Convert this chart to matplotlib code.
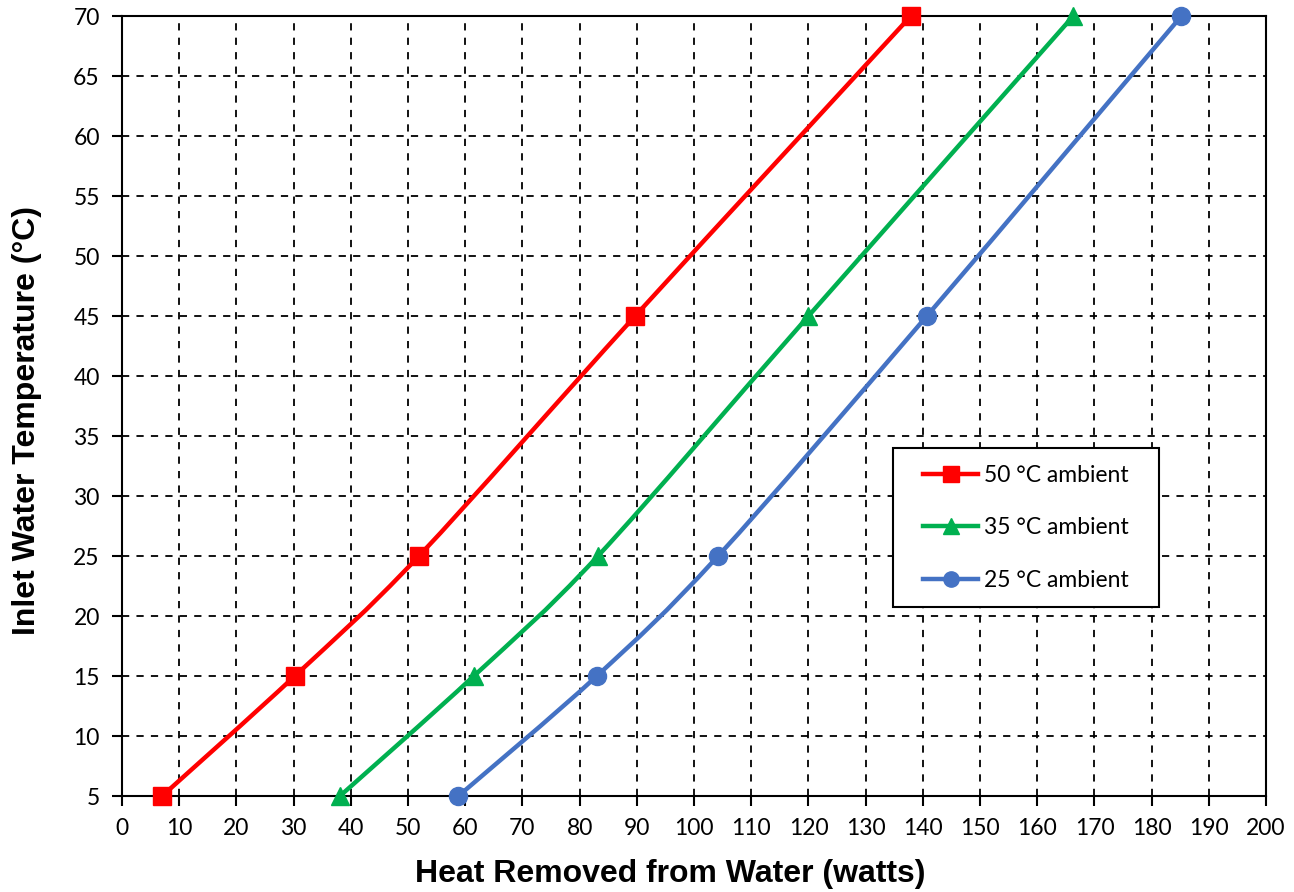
import numpy as np
import matplotlib
matplotlib.use("Agg")
import matplotlib.pyplot as plt
from matplotlib.path import Path
from matplotlib.patches import PathPatch, Rectangle
from matplotlib.lines import Line2D

# inlet water temperature (deg C)
temps = [5, 15, 25, 45, 70]

# heat removed (watts) for each ambient temperature
heat_50 = [7.0, 30.2, 51.9, 89.7, 137.9]
heat_35 = [38.1, 61.5, 83.2, 120.0, 166.3]
heat_25 = [58.8, 83.0, 104.2, 140.7, 185.2]

labels = ["50 °C ambient", "35 °C ambient", "25 °C ambient"]
colors = ["#FF0000", "#00B050", "#4472C4"]
markers = ["s", "^", "o"]
msizes = [13, 13, 13]

x_ticks = list(range(0, 201, 10))
y_ticks = list(range(5, 71, 5))


def smooth_path(x, y):
    # catmull-rom style bezier, like a spreadsheet "smoothed line"
    pts = np.column_stack([x, y]).astype(float)
    verts = [pts[0]]
    codes = [Path.MOVETO]
    n = len(pts)
    for i in range(n - 1):
        p0 = pts[i - 1] if i > 0 else pts[i]
        p1 = pts[i]
        p2 = pts[i + 1]
        p3 = pts[i + 2] if i + 2 < n else pts[i + 1]
        c1 = p1 + (p2 - p0) / 6.0
        c2 = p2 - (p3 - p1) / 6.0
        verts += [c1, c2, p2]
        codes += [Path.CURVE4] * 3
    return Path(verts, codes)


fig = plt.figure(figsize=(12.94, 8.92), dpi=100)
ax = fig.add_axes([0.0943, 0.1076, 0.8841, 0.8744])

tick_font = "Lato"
series = [heat_50, heat_35, heat_25]
handles = []
for xs, c, m, ms, lab in zip(series, colors, markers, msizes, labels):
    patch = PathPatch(smooth_path(xs, temps), facecolor="none", edgecolor=c,
                      lw=3.2, capstyle="round", joinstyle="round", zorder=3)
    ax.add_patch(patch)
    ax.plot(xs, temps, ls="none", marker=m, ms=ms, color=c, zorder=4,
            clip_on=False)
    handles.append(Line2D([], [], color=c, lw=3.2, marker=m, ms=ms - 2,
                          label=lab))

ax.set_xlim(0, 200)
ax.set_ylim(5, 70)
ax.set_xticks(x_ticks)
ax.set_yticks(y_ticks)

ax.grid(True, color="black", ls=(0, (4, 4)), lw=1.3)
ax.set_axisbelow(True)
for sp in ax.spines.values():
    sp.set_color("black")
    sp.set_linewidth(1.5)

ax.tick_params(axis="both", direction="out", length=7, width=1.5,
               labelsize=16.5, pad=9)
for lab in ax.get_xticklabels() + ax.get_yticklabels():
    lab.set_fontfamily(tick_font)

ax.set_xlabel("Heat Removed from Water (watts)", fontsize=23,
              fontweight="bold", fontfamily="Liberation Sans")
ax.set_ylabel("Inlet Water Temperature (°C)", fontsize=23,
              fontweight="bold", fontfamily="Liberation Sans")
ax.xaxis.set_label_coords(0.479, -0.081)
ax.yaxis.set_label_coords(-0.07, 0.482)

# legend box drawn separately so its padding matches the original
box_w, box_h = 0.2325, 0.204
box_cx, box_cy = 0.790, 0.344
ax.add_patch(Rectangle((box_cx - box_w / 2, box_cy - box_h / 2), box_w, box_h,
                       transform=ax.transAxes, facecolor="white",
                       edgecolor="black", lw=1.5, zorder=5))
leg = ax.legend(handles=handles, loc="center",
                bbox_to_anchor=(box_cx, box_cy), frameon=False,
                borderpad=0, labelspacing=1.38, handlelength=2.4,
                handletextpad=0.25,
                prop={"family": tick_font, "size": 16.5})
leg.set_zorder(6)

fig.savefig("out.png", dpi=100)
